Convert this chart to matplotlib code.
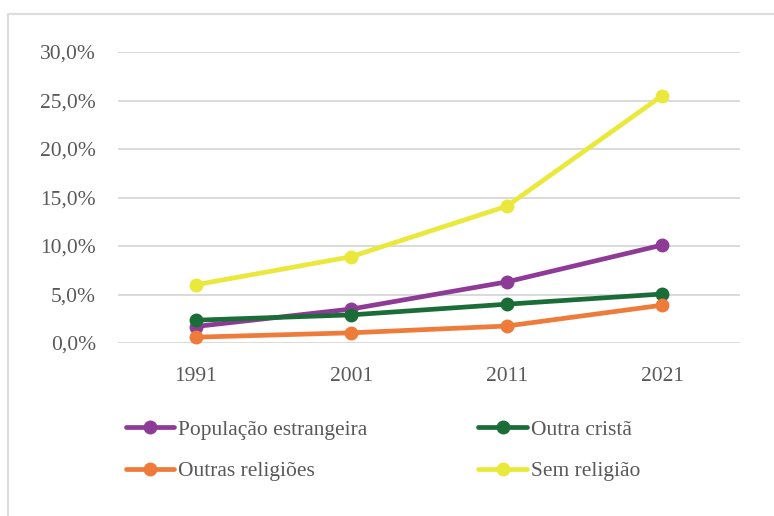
import matplotlib
matplotlib.use("Agg")
import matplotlib.pyplot as plt
from matplotlib.lines import Line2D
from matplotlib.ticker import FuncFormatter

plt.rcParams['font.family'] = ['Liberation Serif', 'DejaVu Serif']

years = ["1991", "2001", "2011", "2021"]
pop_estrangeira = [1.7, 3.5, 6.3, 10.1]
outra_crista = [2.35, 2.9, 4.0, 5.05]
outras_religioes = [0.6, 1.05, 1.75, 3.9]
sem_religiao = [6.0, 8.9, 14.1, 25.5]

series = [
    ("População estrangeira", pop_estrangeira, "#8E3B97"),
    ("Outra cristã", outra_crista, "#1B6D37"),
    ("Outras religiões", outras_religioes, "#EF7B3B"),
    ("Sem religião", sem_religiao, "#E9E83B"),
]

text_color = "#595959"
grid_color = "#D4D4D4"
fs = 15.5

W, H = 774, 516
fig = plt.figure(figsize=(W / 100, H / 100), dpi=100)

# light frame around the chart area (top and left edges)
frame_x = [8 / W, 8 / W, 1.0]
frame_y = [0.0, 1 - 14 / H, 1 - 14 / H]
fig.add_artist(Line2D(frame_x, frame_y, transform=fig.transFigure,
                      color="#DDDDDD", linewidth=1.6))

ax = fig.add_axes([118 / W, 1 - 343 / H, (740 - 118) / W, (343 - 52) / H])
x = list(range(len(years)))
handles = {}
for name, vals, color in series:
    h, = ax.plot(x, vals, color=color, linewidth=3.4, marker='o', markersize=9,
                 solid_capstyle='round', clip_on=False, label=name)
    handles[name] = h

ax.set_xlim(-0.5, len(years) - 0.5)
ax.set_ylim(0, 30)
ax.set_yticks([0, 5, 10, 15, 20, 25, 30])
ax.yaxis.set_major_formatter(FuncFormatter(lambda v, p: f"{v:.1f}%".replace(".", ",")))
ax.set_xticks(x)
ax.set_xticklabels(years)
ax.grid(axis='y', color=grid_color, linewidth=1.2)
ax.set_axisbelow(True)
for s in ax.spines.values():
    s.set_visible(False)
ax.tick_params(axis='both', length=0, colors=text_color, labelsize=fs)
ax.tick_params(axis='y', pad=16)
ax.tick_params(axis='x', pad=17)

order = ["População estrangeira", "Outras religiões", "Outra cristã", "Sem religião"]
leg = fig.legend([handles[n] for n in order], order, ncol=2, loc='upper left',
                 bbox_to_anchor=(117 / W, 1 - 411 / H), frameon=False,
                 fontsize=fs, handlelength=2.25, handletextpad=0.2,
                 columnspacing=5.15, labelspacing=1.0, borderaxespad=0)
for t in leg.get_texts():
    t.set_color(text_color)

fig.savefig("out.png", dpi=100)
